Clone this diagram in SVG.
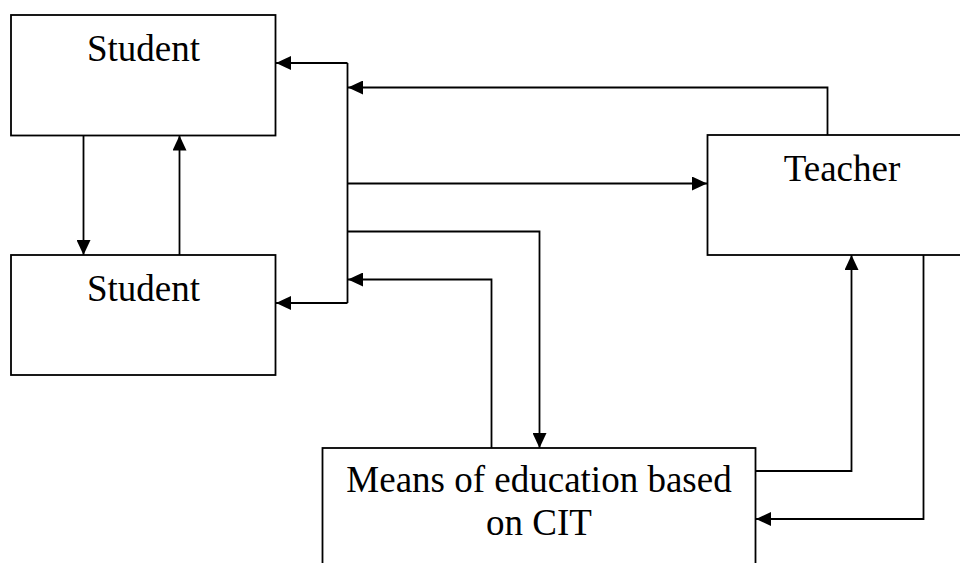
<svg xmlns="http://www.w3.org/2000/svg" width="960" height="563" viewBox="0 0 960 563">
  <style>
    .box { fill: #fff; stroke: #000; stroke-width: 1.8; }
    .lbl { font-family: "Liberation Serif", "Times New Roman", serif; font-size: 37px; fill: #000; text-anchor: middle; }
    .con { fill: none; stroke: #000; stroke-width: 1.8; }
  </style>
  <defs>
    <marker id="ah" markerUnits="userSpaceOnUse" markerWidth="15" markerHeight="14" refX="15" refY="7" orient="auto">
      <path d="M0,0 L15,7 L0,14 z" fill="#000"/>
    </marker>
  </defs>
  <rect width="960" height="563" fill="#fff"/>
  <g id="student1">
    <rect class="box" x="11" y="15" width="264.5" height="120.5"/>
    <text class="lbl" x="143.5" y="61">Student</text>
  </g>
  <g id="student2">
    <rect class="box" x="11" y="255" width="264.5" height="120"/>
    <text class="lbl" x="143.5" y="301">Student</text>
  </g>
  <g id="teacher">
    <rect class="box" x="707.5" y="135" width="280" height="120"/>
    <text class="lbl" x="842" y="181">Teacher</text>
  </g>
  <g id="means">
    <rect class="box" x="322.5" y="448" width="433" height="140"/>
    <text class="lbl" x="539" y="492">Means of education based</text>
    <text class="lbl" x="539" y="535">on CIT</text>
  </g>
  <g id="connectors">
    <path class="con" d="M83.5,135.5 V255" marker-end="url(#ah)"/>
    <path class="con" d="M179.5,255 V135.5" marker-end="url(#ah)"/>
    <path class="con" d="M347.5,63 V303"/>
    <path class="con" d="M347.5,63 H276" marker-end="url(#ah)"/>
    <path class="con" d="M347.5,303 H276" marker-end="url(#ah)"/>
    <path class="con" d="M827.5,135 V87.5 H348" marker-end="url(#ah)"/>
    <path class="con" d="M347.5,183.5 H707" marker-end="url(#ah)"/>
    <path class="con" d="M347.5,231.5 H539.5 V448" marker-end="url(#ah)"/>
    <path class="con" d="M491.5,448 V279.5 H348" marker-end="url(#ah)"/>
    <path class="con" d="M755.5,471 H851.5 V255" marker-end="url(#ah)"/>
    <path class="con" d="M923.5,255 V519 H756" marker-end="url(#ah)"/>
  </g>
</svg>
